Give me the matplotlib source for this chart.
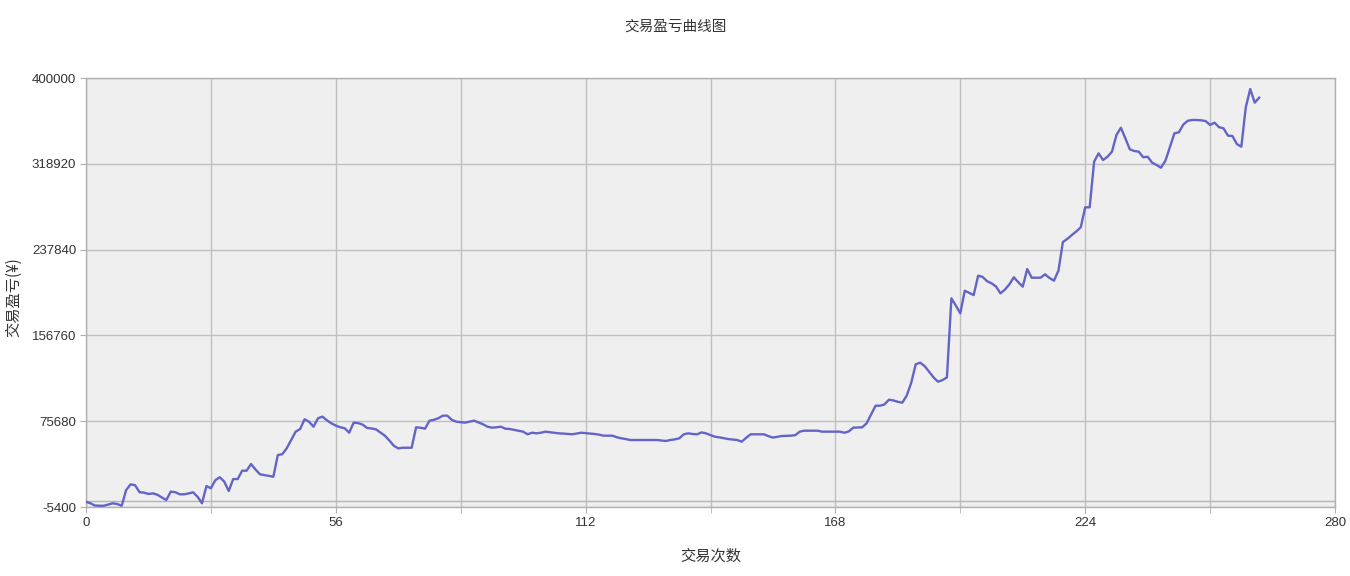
import matplotlib
matplotlib.use("Agg")
import matplotlib.pyplot as plt
from matplotlib.ticker import FixedLocator

plt.rcParams['font.family'] = ['Noto Sans CJK SC', 'DejaVu Sans']

title = "交易盈亏曲线图"
x_label = "交易次数"
y_label = "交易盈亏(¥)"

profit = [
    -500, -1900, -4000, -4200, -4200, -3000, -1900, -2600, -4200, 10600,
    16000, 15200, 8600, 8200, 6900, 7500, 6200, 3600, 1200, 9100,
    8600, 6600, 6600, 7400, 8500, 4300, -1900, 14400, 12300, 20000,
    22700, 18500, 9700, 21000, 21000, 28900, 28900, 35200, 30000, 25500,
    24800, 24000, 23200, 43700, 44500, 50100, 57900, 65800, 68300, 77500,
    75200, 70500, 78400, 80000, 76500, 73700, 71500, 70000, 69000, 64800,
    74300, 73900, 72500, 69300, 68800, 68000, 65000, 62000, 57500, 52500,
    50000, 50600, 50600, 50600, 69900, 69500, 68600, 76200, 77000, 78500,
    80900, 80900, 77000, 75200, 74800, 74300, 75200, 76200, 74500, 72800,
    70500, 69600, 69900, 70500, 68600, 68300, 67500, 66700, 65800, 63300,
    64800, 64200, 64800, 65800, 65300, 64800, 64200, 64000, 63600, 63300,
    64000, 64800, 64400, 64000, 63600, 63000, 62000, 62000, 62000, 60500,
    59500, 58800, 57900, 57900, 57900, 57900, 57900, 57900, 57900, 57500,
    57000, 57900, 58500, 59500, 63300, 64200, 63600, 63300, 65100, 64200,
    62500, 61000, 60400, 59600, 58800, 58400, 57900, 56300, 60000, 63300,
    63300, 63300, 63300, 61500, 60200, 61000, 61700, 61900, 62000, 62500,
    65800, 66700, 66700, 66700, 66700, 65800, 65800, 65800, 65800, 65800,
    64800, 66000, 69600, 69800, 69900, 73700, 82000, 90300, 90300, 91500,
    96000, 95300, 94000, 93200, 100000, 112000, 129400, 131000, 127800, 122500,
    117100, 113000, 114500, 117100, 191800, 185000, 177600, 199000, 197000, 194900,
    213200, 212000, 208000, 206000, 203000, 196500, 200000, 205000, 211700, 207000,
    202800, 219500, 211300, 211300, 211300, 214500, 211000, 208500, 217900, 245000,
    248000, 251600, 255000, 258900, 277800, 277800, 320900, 328800, 322500, 325600,
    330400, 346100, 353000, 343000, 332600, 331000, 330400, 325100, 325600, 320000,
    317800, 315200, 322000, 335000, 347700, 348700, 356000, 359600, 360300, 360300,
    360000, 359300, 355600, 357800, 353500, 352500, 345500, 345200, 337600, 335100,
    372300, 389600, 376700, 381400,
]
trades = list(range(len(profit)))

y_ticks = [-5400, 75680, 156760, 237840, 318920, 400000]
x_ticks = [0, 56, 112, 168, 224, 280]
x_minor = [28, 84, 140, 196, 252]

fig = plt.figure(figsize=(13.5, 5.76), dpi=100)
ax = fig.add_axes([86/1350, 1-507/576, (1335-86)/1350, (507-78)/576])
ax.set_facecolor('#EFEFEF')

ax.plot(trades, profit, color='#6464C8', linewidth=1.7, zorder=3)
ax.axhline(0, color='#B4B4B4', linewidth=1.0, zorder=2)

ax.set_xlim(0, 280)
ax.set_ylim(-5400, 400000)
ax.set_xticks(x_ticks)
ax.set_xticklabels([str(v) for v in x_ticks])
ax.xaxis.set_minor_locator(FixedLocator(x_minor))
ax.set_yticks(y_ticks)
ax.set_yticklabels([str(v) for v in y_ticks])

ax.grid(True, which='major', color='#C0C0C0', linewidth=1.0)
ax.grid(True, which='minor', axis='x', color='#C0C0C0', linewidth=1.0)
ax.set_axisbelow(True)

for side in ['left', 'bottom', 'top', 'right']:
    ax.spines[side].set_color('#B0B0B0')
    ax.spines[side].set_linewidth(1.0)

ax.tick_params(axis='both', which='both', length=4, color='#B0B0B0',
               labelsize=9.5, labelcolor='#333333', pad=3)
for lab in ax.get_xticklabels() + ax.get_yticklabels():
    lab.set_family(['Liberation Sans', 'DejaVu Sans'])

ax.set_xlabel(x_label, fontsize=11, color='#333333')
ax.xaxis.set_label_coords(0.5, -(548-507)/429)
ax.set_ylabel(y_label, fontsize=11, color='#333333')
ax.yaxis.set_label_coords(-(86-22)/1249, 0.49)
fig.text(0.5, 1-27/576, title, ha='center', va='center', fontsize=10.5, color='#333333')

fig.savefig('out.png', dpi=100, facecolor='white')
